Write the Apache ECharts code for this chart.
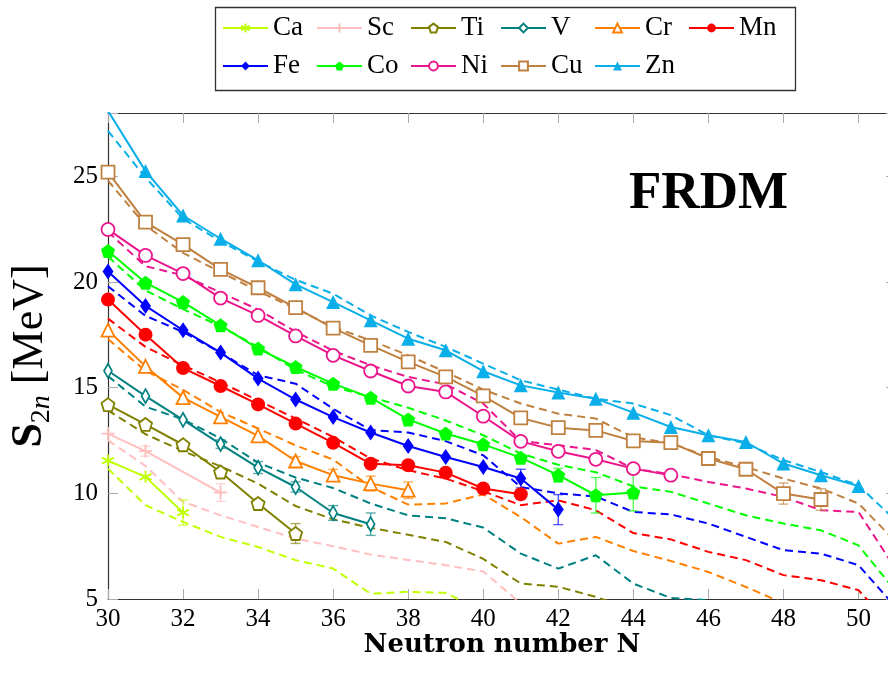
<!DOCTYPE html>
<html><head><meta charset="utf-8">
<script src="https://cdn.jsdelivr.net/npm/echarts@6/dist/echarts.min.js"></script>
<style>html,body{margin:0;padding:0;background:#fff}#c{width:888px;height:673px}</style>
</head><body><div id="c"></div>
<script>
// ---------------- data ----------------
const N0 = 30; // first neutron number of every array
const xTicks = [30, 32, 34, 36, 38, 40, 42, 44, 46, 48, 50];
const yTicks = [5, 10, 15, 20, 25];
const elements = ['Ca', 'Sc', 'Ti', 'V', 'Cr', 'Mn', 'Fe', 'Co', 'Ni', 'Cu', 'Zn'];

// experimental S2n (solid lines), index 0 -> N=30
const expCa = [11.55, 10.78, 9.09];
const expSc = [12.83, 12.0, null, 10.04];
const expTi = [14.2, 13.26, 12.3, 11.01, 9.52, 8.1];
const expV  = [15.8, 14.6, 13.48, 12.33, 11.22, 10.3, 9.07, 8.54];
const expCr = [17.72, 16.01, 14.53, 13.62, 12.72, 11.53, 10.86, 10.46, 10.15];
const expMn = [19.17, 17.51, 15.93, 15.08, 14.21, 13.3, 12.39, 11.4, 11.33, 10.98, 10.23, 9.96];
const expFe = [20.5, 18.87, 17.72, 16.66, 15.43, 14.44, 13.61, 12.88, 12.24, 11.72, 11.25, 10.7, 9.23];
const expCo = [21.47, 19.97, 19.05, 17.95, 16.85, 15.98, 15.19, 14.53, 13.5, 12.83, 12.32, 11.69, 10.86, 9.91, 10.04];
const expNi = [22.49, 21.26, 20.4, 19.24, 18.42, 17.45, 16.53, 15.79, 15.08, 14.8, 13.65, 12.46, 11.99, 11.61, 11.17, 10.86];
const expCu = [25.2, 22.84, 21.77, 20.6, 19.73, 18.79, 17.82, 17.0, 16.22, 15.51, 14.61, 13.57, 13.11, 12.98, 12.48, 12.4, 11.65, 11.14, 9.99, 9.71];
const expZn = [28.1, 25.25, 23.15, 22.05, 21.03, 19.89, 19.05, 18.19, 17.32, 16.77, 15.78, 15.11, 14.77, 14.48, 13.82, 13.14, 12.75, 12.43, 11.41, 10.86, 10.35];

// FRDM S2n (dashed lines), index 0 -> N=30
const frdmCa = [11.17, 9.44, 8.65, 7.94, 7.46, 6.84, 6.44, 5.25, 5.34, 5.29, 4.4];
const frdmSc = [12.51, 11.3, 9.6, 8.96, 8.41, 7.86, 7.5, 7.1, 6.85, 6.6, 6.3, 4.8, 3.5];
const frdmTi = [13.93, 12.8, 12.0, 11.28, 10.46, 9.4, 8.77, 8.37, 8.04, 7.7, 6.9, 5.73, 5.58, 5.1, 4.5];
const frdmV  = [15.55, 14.1, 13.5, 12.6, 11.45, 10.75, 10.25, 9.52, 8.96, 8.82, 8.38, 7.15, 6.44, 7.07, 5.73, 5.05, 4.95, 4.3];
const frdmCr = [17.3, 15.8, 14.9, 13.85, 13.07, 12.27, 11.6, 10.3, 9.47, 9.52, 9.95, 8.88, 7.62, 7.94, 7.27, 6.8, 6.28, 5.57, 4.8];
const frdmMn = [18.27, 16.93, 16.06, 15.25, 14.4, 13.54, 12.67, 11.65, 11.09, 10.7, 10.1, 9.44, 9.67, 9.2, 8.12, 7.82, 7.23, 6.84, 6.13, 5.89, 5.42, 3.5];
const frdmFe = [19.8, 18.4, 17.64, 16.65, 15.59, 15.19, 14.0, 13.0, 12.88, 12.47, 11.8, 10.3, 10.0, 9.85, 9.12, 9.0, 8.57, 7.94, 7.31, 7.15, 6.6, 4.6];
const frdmCo = [21.2, 19.6, 18.72, 17.9, 16.93, 15.85, 15.05, 14.56, 14.05, 13.45, 12.75, 11.88, 11.35, 11.0, 10.33, 10.07, 9.52, 8.96, 8.57, 8.25, 7.54, 5.35];
const frdmNi = [22.37, 20.75, 20.32, 19.5, 18.7, 17.65, 16.75, 16.06, 15.51, 15.16, 14.25, 12.47, 12.28, 12.05, 11.17, 10.9, 10.54, 10.23, 9.83, 9.2, 9.12, 6.4];
const frdmCu = [24.8, 22.68, 21.38, 20.47, 19.57, 18.74, 17.87, 17.24, 16.53, 15.74, 14.91, 14.25, 13.77, 13.54, 12.65, 12.38, 11.72, 11.25, 10.7, 10.23, 9.52, 7.7];
const frdmZn = [27.15, 24.95, 23.0, 21.93, 20.98, 20.1, 19.45, 18.42, 17.64, 16.93, 16.14, 15.35, 14.91, 14.48, 14.25, 13.7, 12.75, 12.36, 11.57, 11.01, 10.38, 8.7];

// experimental uncertainties: [N, error]
const errCa = [[32, 0.6]];
const errSc = [[31, 0.24], [33, 0.42]];
const errTi = [[35, 0.47]];
const errV  = [[33, 0.2], [34, 0.28], [35, 0.24], [36, 0.35], [37, 0.53]];
const errCr = [[35, 0.2], [36, 0.27], [37, 0.35], [38, 0.39]];
const errMn = [];
const errFe = [[41, 0.44], [42, 0.71]];
const errCo = [[42, 0.32], [43, 0.84], [44, 0.87]];
const errNi = [];
const errCu = [[48, 0.5], [49, 0.51]];
const errZn = [];

const expData  = {Ca: expCa, Sc: expSc, Ti: expTi, V: expV, Cr: expCr, Mn: expMn, Fe: expFe, Co: expCo, Ni: expNi, Cu: expCu, Zn: expZn};
const frdmData = {Ca: frdmCa, Sc: frdmSc, Ti: frdmTi, V: frdmV, Cr: frdmCr, Mn: frdmMn, Fe: frdmFe, Co: frdmCo, Ni: frdmNi, Cu: frdmCu, Zn: frdmZn};
const errData  = {Ca: errCa, Sc: errSc, Ti: errTi, V: errV, Cr: errCr, Mn: errMn, Fe: errFe, Co: errCo, Ni: errNi, Cu: errCu, Zn: errZn};

// ---------------- style ----------------
const colors = {Ca: '#bfff00', Sc: '#ffbfbf', Ti: '#808000', V: '#008080', Cr: '#ff8000', Mn: '#ff0000',
  Fe: '#0000ff', Co: '#00ff00', Ni: '#ec168c', Cu: '#bf8040', Zn: '#0aaee8'};
const PENT = 'path://M0,-1L0.951,-0.309L0.588,0.809L-0.588,0.809L-0.951,-0.309Z';
const ASTER = 'path://M0,-1L0,1M-0.866,-0.5L0.866,0.5M-0.866,0.5L0.866,-0.5';
const PLUS = 'path://M0,-1L0,1M-1,0L1,0';
const marks = {
  Ca: {symbol: ASTER, size: 12, fill: false, stroke: true},
  Sc: {symbol: PLUS, size: 13, fill: false, stroke: true},
  Ti: {symbol: PENT, size: 13, fill: false},
  V:  {symbol: 'diamond', size: [8, 14], fill: false},
  Cr: {symbol: 'triangle', size: 13, fill: false},
  Mn: {symbol: 'circle', size: 14, fill: true},
  Fe: {symbol: 'diamond', size: [11, 16], fill: true},
  Co: {symbol: PENT, size: 14, fill: true},
  Ni: {symbol: 'circle', size: 13, fill: false},
  Cu: {symbol: 'rect', size: 13, fill: false},
  Zn: {symbol: 'triangle', size: 14, fill: true}
};
const SERIF = 'Liberation Serif';

const toPairs = arr => arr.map((v, i) => [N0 + i, v]);

const series = [];
elements.forEach(el => {
  series.push({
    name: el + ' FRDM', type: 'line', data: toPairs(frdmData[el]), symbol: 'none', z: 2,
    lineStyle: {color: colors[el], width: 2, type: [8, 5]}, silent: true
  });
});
elements.forEach(el => {
  const exp = expData[el];
  const data = errData[el].map(([n, e]) => { const v = exp[n - N0]; return [n, v - e, v + e]; });
  if (!data.length) return;
  series.push({
    name: el + ' err', type: 'custom', z: 3, silent: true,
    encode: {x: 0, y: [1, 2]},
    data: data,
    renderItem: (params, api) => {
      const x = api.value(0);
      const p1 = api.coord([x, api.value(2)]);
      const p2 = api.coord([x, api.value(1)]);
      const w = 5;
      const st = {stroke: colors[el], lineWidth: 1.4, opacity: 0.65};
      return {type: 'group', children: [
        {type: 'line', shape: {x1: p1[0], y1: p1[1], x2: p2[0], y2: p2[1]}, style: st},
        {type: 'line', shape: {x1: p1[0] - w, y1: p1[1], x2: p1[0] + w, y2: p1[1]}, style: st},
        {type: 'line', shape: {x1: p2[0] - w, y1: p2[1], x2: p2[0] + w, y2: p2[1]}, style: st}
      ]};
    }
  });
});
elements.forEach(el => {
  const m = marks[el];
  series.push({
    name: el, type: 'line', z: 4,
    data: toPairs(expData[el]).filter(p => p[1] !== null),
    symbol: m.symbol, symbolSize: m.size, showAllSymbol: true,
    lineStyle: {color: colors[el], width: 2},
    itemStyle: {color: m.fill ? colors[el] : (m.stroke ? 'rgba(0,0,0,0)' : '#ffffff'),
      borderColor: colors[el], borderWidth: m.fill ? 0 : 1.8, opacity: 1},
    emphasis: {disabled: true}
  });
});

const legendCols = [['Ca', 'Fe'], ['Sc', 'Co'], ['Ti', 'Ni'], ['V', 'Cu'], ['Cr', 'Zn'], ['Mn']];
const legendX = [222, 316, 410, 500, 594, 688];
const legends = legendCols.map((cols, i) => ({
  data: cols, orient: 'vertical', left: legendX[i], top: 14, padding: 0,
  itemWidth: 45, itemHeight: 11, itemGap: 10,
  textStyle: {fontFamily: SERIF, fontSize: 27, color: '#000', lineHeight: 28},
  selectedMode: false
}));

const axisLineStyle = {color: '#333', width: 1.2};
const tickStyle = {color: '#aaa', width: 1};

const chart = echarts.init(document.getElementById('c'), null, {renderer: 'canvas'});
chart.setOption({
  animation: false,
  backgroundColor: '#fff',
  grid: {left: 108, top: 113, width: 788, height: 486, containLabel: false, outerBoundsMode: 'none'},
  legend: legends,
  xAxis: [{
    type: 'value', min: 30, max: 51, interval: 2, position: 'bottom',
    axisLine: {show: true, onZero: false, lineStyle: axisLineStyle},
    axisTick: {inside: true, length: 10, lineStyle: tickStyle},
    splitLine: {show: false},
    axisLabel: {formatter: v => xTicks.includes(v) ? String(v) : '', fontFamily: SERIF, fontSize: 25, color: '#000', margin: 8},
    name: 'Neutron number N', nameLocation: 'middle', nameGap: 33, nameMoveOverlap: false,
    nameTextStyle: {fontFamily: 'DejaVu Serif', fontWeight: 'bold', fontSize: 26, color: '#000', verticalAlign: 'top'}
  }, {
    type: 'value', min: 30, max: 51, interval: 2, position: 'top',
    axisLine: {show: true, onZero: false, lineStyle: axisLineStyle},
    axisTick: {inside: true, length: 10, lineStyle: tickStyle},
    splitLine: {show: false}, axisLabel: {show: false}
  }],
  yAxis: [{
    type: 'value', min: 5, max: 28, interval: 5, position: 'left',
    axisLine: {show: true, onZero: false, lineStyle: axisLineStyle},
    axisTick: {inside: true, length: 10, lineStyle: tickStyle},
    splitLine: {show: false},
    axisLabel: {formatter: v => yTicks.includes(v) ? String(v) : '', fontFamily: SERIF, fontSize: 25, color: '#000', margin: 10},
    name: '{s|S}{sub|2}{subi|n}{r| [MeV]}', nameLocation: 'middle', nameGap: 52, nameRotate: 90, nameMoveOverlap: false,
    nameTextStyle: {
      rich: {
        s: {fontFamily: SERIF, fontWeight: 'bold', fontSize: 44, color: '#000', lineHeight: 52, verticalAlign: 'middle'},
        sub: {fontFamily: SERIF, fontSize: 28, color: '#000', lineHeight: 52, verticalAlign: 'bottom'},
        subi: {fontFamily: SERIF, fontStyle: 'italic', fontSize: 28, color: '#000', lineHeight: 52, verticalAlign: 'bottom'},
        r: {fontFamily: SERIF, fontSize: 44, color: '#000', lineHeight: 52, verticalAlign: 'middle'}
      }
    }
  }, {
    type: 'value', min: 5, max: 28, interval: 5, position: 'right',
    axisLine: {show: true, onZero: false, lineStyle: axisLineStyle},
    axisTick: {inside: true, length: 10, lineStyle: tickStyle},
    splitLine: {show: false}, axisLabel: {show: false}
  }],
  graphic: [
    {type: 'rect', left: 213, top: 5, shape: {width: 580, height: 83},
      style: {fill: 'none', stroke: '#333', lineWidth: 1.3}, z: 0},
    {type: 'text', left: 629, top: 168,
      style: {text: 'FRDM', font: 'bold 53px "Liberation Serif"', fill: '#000'}}
  ],
  series: series
});
</script></body></html>
